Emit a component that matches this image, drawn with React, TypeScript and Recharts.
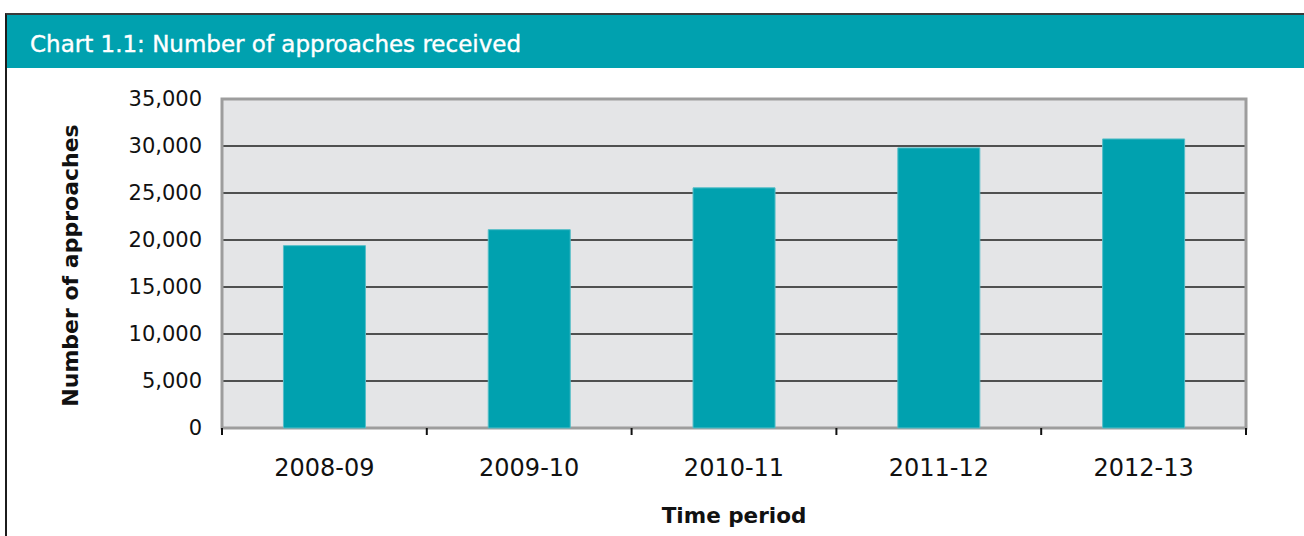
import { BarChart, Bar, XAxis, YAxis, CartesianGrid, ReferenceArea } from "recharts";

const periods = ["2008-09", "2009-10", "2010-11", "2011-12", "2012-13"];
const approaches = [19400, 21100, 25550, 29800, 30750];
const yTicks = [0, 5000, 10000, 15000, 20000, 25000, 30000, 35000];

const teal = "#00a1af";
const font = "'DejaVu Sans', sans-serif";

const data = periods.map((p, i) => ({ period: p, approaches: approaches[i] }));

function YTitle({ viewBox }: any) {
    const cx = viewBox.x + 70;
    const cy = viewBox.y + viewBox.height / 2 + 2;
    return (
        <text
            x={cx}
            y={cy}
            transform={`rotate(-90, ${cx}, ${cy})`}
            textAnchor="middle"
            dominantBaseline="central"
            fontFamily={font}
            fontSize={22}
            fontWeight="bold"
            fill="#111"
        >
            Number of approaches
        </text>
    );
}

// category label plus tick marks on the category boundaries
function PeriodTick({ x, y, payload, index, visibleTicksCount }: any) {
    const half = payload.offset ?? 0;
    const axisY = 428;
    return (
        <g>
            <line x1={x - half} x2={x - half} y1={axisY} y2={axisY + 7} stroke="#111" strokeWidth={2} />
            {index === visibleTicksCount - 1 && (
                <line x1={x + half} x2={x + half} y1={axisY} y2={axisY + 7} stroke="#111" strokeWidth={2} />
            )}
            <text x={x} y={y} dy="0.71em" textAnchor="middle" fill="#111" fontSize={24} fontFamily={font}>
                {payload.value}
            </text>
        </g>
    );
}

export default function App() {
    return (
        <div style={{ position: "absolute", left: 0, top: 0, width: 1304, height: 536, background: "#fff", overflow: "hidden" }}>
            <div style={{ position: "absolute", left: 5, top: 13, width: 1320, height: 540, borderLeft: "2px solid #1c1c1c", borderTop: "2px solid #3a3a3a" }} />
            <div
                style={{
                    position: "absolute",
                    left: 7,
                    top: 15,
                    width: 1297,
                    height: 53,
                    background: teal,
                    color: "#fff",
                    fontFamily: font,
                    fontSize: 23,
                    lineHeight: "59px",
                    paddingLeft: 23,
                    boxSizing: "border-box",
                    whiteSpace: "nowrap",
                    WebkitTextStroke: "0.4px #fff",
                }}
            >
                Chart 1.1: Number of approaches received
            </div>
            <div style={{ position: "absolute", left: 0, top: 0 }}>
                <BarChart
                    width={1304}
                    height={536}
                    data={data}
                    margin={{ top: 99, right: 58, bottom: 0, left: 0 }}
                    barCategoryGap="30%"
                >
                    <CartesianGrid vertical={false} stroke="#1e1e1e" strokeWidth={1.5} fill="#e4e5e7" fillOpacity={1} />
                    <XAxis
                        dataKey="period"
                        height={108}
                        axisLine={false}
                        tickLine={false}
                        tickMargin={25}
                        tick={<PeriodTick />}
                        label={{
                            value: "Time period",
                            position: "insideBottom",
                            offset: 13,
                            fill: "#111",
                            fontSize: 21.5,
                            fontWeight: "bold",
                            fontFamily: font,
                        }}
                    />
                    <YAxis
                        width={222}
                        domain={[0, 35000]}
                        ticks={yTicks}
                        axisLine={false}
                        tickLine={false}
                        tickMargin={14}
                        tickFormatter={(v: number) => v.toLocaleString("en-US")}
                        tick={{ fill: "#111", fontSize: 21, fontFamily: font }}
                        label={{ content: (props: any) => <YTitle {...props} /> }}
                    />
                    <Bar dataKey="approaches" fill={teal} stroke="#55bec8" strokeWidth={1} isAnimationActive={false} />
                    <ReferenceArea y1={0} y2={35000} fill="none" stroke="#9d9d9d" strokeWidth={3} ifOverflow="visible" />
                </BarChart>
            </div>
        </div>
    );
}
